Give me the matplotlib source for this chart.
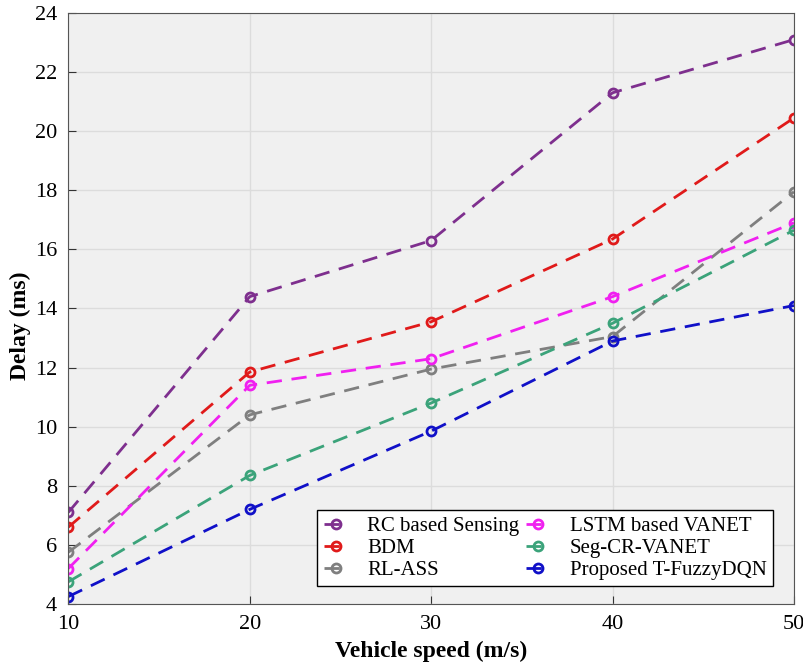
import matplotlib.pyplot as plt
import numpy as np

plt.rcParams['font.family'] = ['Liberation Serif', 'DejaVu Serif']

# Dane
speed = [10, 20, 30, 40, 50]
rc_sensing = [7.1, 14.4, 16.3, 21.3, 23.1]
bdm = [6.6, 11.85, 13.55, 16.35, 20.45]
rl_ass = [5.75, 10.4, 11.95, 13.05, 17.95]
lstm_vanet = [5.2, 11.4, 12.3, 14.4, 16.9]
seg_cr = [4.75, 8.35, 10.8, 13.5, 16.65]
proposed = [4.25, 7.2, 9.85, 12.9, 14.1]

labels = ["RC based Sensing", "BDM", "RL-ASS",
          "LSTM based VANET", "Seg-CR-VANET", "Proposed T-FuzzyDQN"]
series = [rc_sensing, bdm, rl_ass, lstm_vanet, seg_cr, proposed]
colors = ["#7E2F8E", "#E01A1A", "#7F7F7F", "#F020F0", "#3BA37A", "#1010C8"]

fig = plt.figure(figsize=(8.04, 6.67), dpi=100)
ax = fig.add_axes([0.085, 0.0945, 0.9025, 0.886])
ax.set_facecolor("#F0F0F0")

for y, lab, c in zip(series, labels, colors):
    ax.plot(speed, y, linestyle=(0, (5.5, 3.5)), color=c, linewidth=2,
            marker='o', markersize=6.5, markerfacecolor='none',
            markeredgewidth=2, label=lab)

ax.set_xlim(10, 50)
ax.set_ylim(4, 24)
ax.set_xticks([10, 20, 30, 40, 50])
ax.set_yticks(np.arange(4, 25, 2))
ax.grid(True, color="#DCDCDC", linewidth=1)
ax.set_axisbelow(True)
ax.tick_params(direction='in', labelsize=16, length=6, color="#333333")
ax.tick_params(axis='x', pad=8)
ax.tick_params(axis='y', pad=8)
for s in ax.spines.values():
    s.set_color("#555555")

ax.set_xlabel("Vehicle speed (m/s)", fontsize=17, fontweight='bold', labelpad=5)
ax.set_ylabel("Delay (ms)", fontsize=17, fontweight='bold')
ax.yaxis.set_label_coords(-0.052, 0.47)

leg = ax.legend(loc='lower right', ncol=2, fontsize=15, frameon=True,
                fancybox=False, edgecolor='black', framealpha=1,
                handlelength=1.2, columnspacing=0.3, labelspacing=0.12,
                borderpad=0.3, handletextpad=0.9, bbox_to_anchor=(0.985, 0.012))
leg.get_frame().set_linewidth(1)

plt.savefig("out.png", dpi=100)
